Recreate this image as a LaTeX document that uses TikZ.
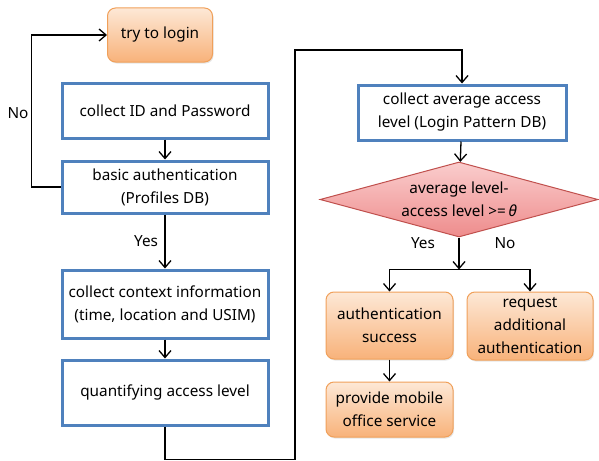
\documentclass[tikz,border=0pt]{standalone}
\usepackage{fontspec}
\setmainfont{Noto Sans}
\usetikzlibrary{shapes.geometric,arrows.meta,shadows}
\definecolor{boxblue}{RGB}{79,129,189}
\definecolor{boxorange}{RGB}{240,160,90}
\definecolor{orangetop}{RGB}{253,232,214}
\definecolor{orangebot}{RGB}{248,178,122}
\definecolor{pinktop}{RGB}{250,205,205}
\definecolor{pinkbot}{RGB}{238,140,140}
\definecolor{redline}{RGB}{192,80,77}
\tikzset{
  bluebox/.style={draw=boxblue, line width=3pt, fill=white, minimum width=206,
    minimum height=55, align=center, inner sep=0pt},
  orangebox/.style={draw=boxorange, line width=1pt, rounded corners=8pt,
    top color=orangetop, bottom color=orangebot, align=center, inner sep=0pt,
    drop shadow={opacity=0.2, shadow xshift=1pt, shadow yshift=-1.5pt}},
  decision/.style={diamond, draw=redline, line width=1pt, top color=pinktop,
    bottom color=pinkbot, minimum width=278, minimum height=75, aspect=3.7,
    align=center, inner sep=0pt},
  line/.style={draw, line width=1.3pt, -{Straight Barb[length=7pt,width=12pt]}}
}
\begin{document}
\begin{tikzpicture}[x=1pt,y=-1pt,font=\fontsize{15.3}{23}\selectfont]
  \useasboundingbox (0,0) rectangle (599,460);
  % left column
  \node[orangebox, minimum width=105, minimum height=54] (login) at (160,35) {try to login};
  \node[bluebox] (collect) at (165,110.5) {collect ID and Password};
  \node[bluebox, minimum height=52] (basic) at (165,187) {basic authentication\\(Profiles DB)};
  \node[bluebox, minimum height=68] (context) at (165,304) {collect context information\\(time, location and USIM)};
  \node[bluebox, minimum height=65] (quantify) at (165,392.5) {quantifying access level};
  % right column
  \node[bluebox, minimum width=208] (average) at (462,112.5) {collect average access\\level (Login Pattern DB)};
  \node[decision] (decide) at (459,199.5) {average level-\\access level >=\,\textit{θ}};
  \node[orangebox, minimum width=127, minimum height=67] (success) at (389.5,325.5) {authentication\\success};
  \node[orangebox, minimum width=126, minimum height=68] (request) at (530,326) {request\\additional\\authentication};
  \node[orangebox, minimum width=127, minimum height=55] (provide) at (389.5,409.5) {provide mobile\\office service};
  % labels
  \node (no1) at (18,113) {No};
  \node (yes2) at (423,243) {Yes};
  \node (no2) at (505,243) {No};
  % connectors
  \draw[line] (collect) -- (basic);
  \draw[line] (basic.west) -- ++(-29,0) |- (login.west);
  \draw[line] (basic) -- node[midway,left=3pt] (yes1) {Yes} (context);
  \draw[line] (context) -- (quantify);
  \draw[line] (quantify.south) -- ++(0,33) -| (295,50) -| (average.north);
  \draw[line] (average) -- (decide);
  \draw[line] (decide.south) -- ++(0,32) coordinate (split);
  \draw[line] (split) -| (success);
  \draw[line] (split) -| (request);
  \draw[line] (success) -- (provide);
\end{tikzpicture}
\end{document}
